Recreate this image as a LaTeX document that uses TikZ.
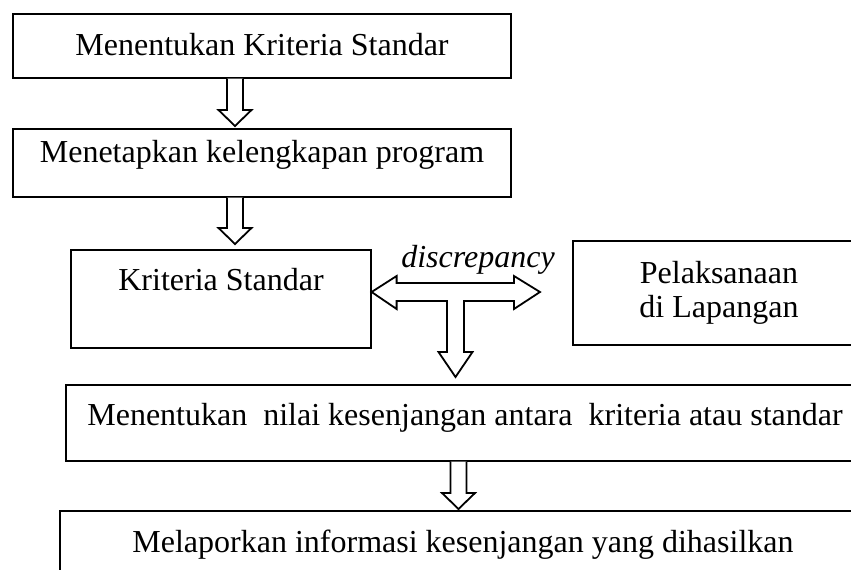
\documentclass[tikz,border=0pt]{standalone}
\usepackage{fontspec}
\setmainfont{Liberation Serif}
\usepackage{tikz}
\usetikzlibrary{
  calc,
  positioning
}

\begin{document}
\begin{tikzpicture}[
  x=1pt, y=-1pt,
  font=\fontsize{32}{30}\selectfont,
  box/.style={draw, line width=1.2pt, inner sep=0pt, minimum width=#1,
              align=center},
  tshift/.style={text height=22pt, text depth=#1},
  blk/.style={draw, line width=1.8pt, fill=white, line join=miter},
]
  \path[use as bounding box, clip] (0,0) rectangle (851,570);

  % boxes
  \node[box=498, minimum height=64, tshift=4pt]  (A) at (262,46)
    {Menentukan Kriteria Standar};
  \node[box=498, minimum height=68, tshift=24pt] (B) at (262,163)
    {Menetapkan kelengkapan program};
  \node[box=300, minimum height=98, tshift=40pt] (C) at (221,299)
    {Kriteria Standar};
  \node[box=292, minimum height=104] (D) at (719,293)
    {Pelaksanaan\\[4pt]di Lapangan};
  \node[box=798, minimum height=76, tshift=18pt] (E) at (465,423)
    {Menentukan~ nilai kesenjangan antara~ kriteria atau standar};
  \node[box=806, minimum height=76, tshift=16pt] (F) at (463,549)
    {Melaporkan informasi kesenjangan yang dihasilkan};

  % down arrows
  \coordinate (t1) at (235,126);
  \coordinate (t2) at (235,244);
  \coordinate (t5) at (458.5,509);
  \foreach \from/\tip in {A/t1, B/t2, E/t5} {
    \draw[blk] let \p1=(\tip), \p2=(\tip |- \from.south) in
      (\x1-8pt,\y2) -- (\x1-8pt,\y1+16pt) -- (\x1-16.5pt,\y1+16pt)
      -- (\p1) -- (\x1+16.5pt,\y1+16pt) -- (\x1+8pt,\y1+16pt)
      -- (\x1+8pt,\y2);
  }

  % discrepancy arrow
  \coordinate (dl) at (C.east |- 0,292);
  \coordinate (dr) at (540,292);
  \coordinate (dd) at (455.5,377);
  \draw[blk] (dl) -- ($(dl)+(25,-16)$) -- ($(dl)+(25,-9)$)
    -- ($(dr)+(-26,-9)$) -- ($(dr)+(-26,-16)$) -- (dr)
    -- ($(dr)+(-26,17)$) -- ($(dr)+(-26,9)$)
    -- ($(dd)+(8.5,-76)$) -- ($(dd)+(8.5,-25)$) -- ($(dd)+(17,-25)$)
    -- (dd) -- ($(dd)+(-17,-25)$) -- ($(dd)+(-8.5,-25)$)
    -- ($(dd)+(-8.5,-76)$) -- ($(dl)+(25,9)$) -- ($(dl)+(25,17)$) -- cycle;
  \node[anchor=base] (disc) at (478,267) {\textit{discrepancy}};
\end{tikzpicture}
\end{document}
